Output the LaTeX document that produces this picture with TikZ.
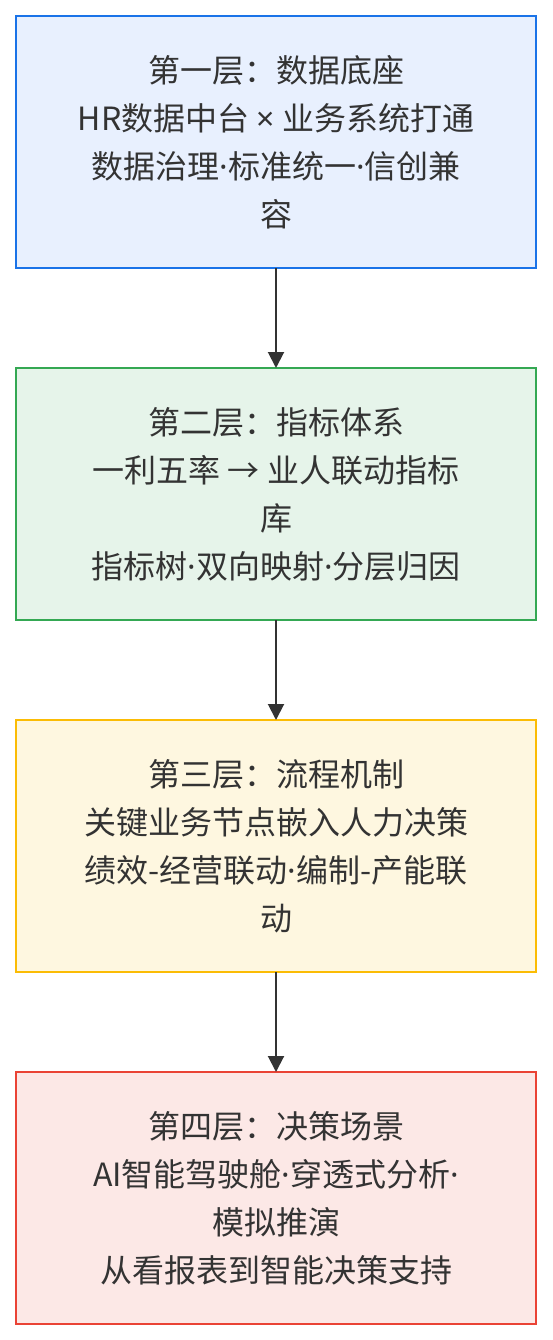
\documentclass[tikz,border=0pt]{standalone}
\usepackage{fontspec}
\setmainfont{Noto Sans CJK SC}
\newfontfamily\latf{Noto Sans}
\newcommand{\mydot}{{\latf ·}}
\newcommand{\mytimes}{{\latf ×}}
\usetikzlibrary{arrows.meta}
\definecolor{txt}{HTML}{333333}
\definecolor{bA}{HTML}{1A73E8}\definecolor{fA}{HTML}{E8F0FE}
\definecolor{bB}{HTML}{34A853}\definecolor{fB}{HTML}{E6F4EA}
\definecolor{bC}{HTML}{FBBC04}\definecolor{fC}{HTML}{FEF7E0}
\definecolor{bD}{HTML}{EA4335}\definecolor{fD}{HTML}{FCE8E6}
\tikzset{
  layer/.style={draw=#1, line width=1.8pt, minimum width=520pt, minimum height=252pt,
    inner sep=0pt, outer sep=0pt, align=center, text=txt,
    font=\fontsize{32pt}{48pt}\selectfont},
  conn/.style={draw=txt, line width=2pt, -{Triangle[width=16pt,length=16pt]}}
}
\begin{document}
\begin{tikzpicture}[x=1pt,y=1pt]
\useasboundingbox[fill=white] (0,0) rectangle (552,-1340);
\node[layer=bA, fill=fA] (l1) at (276,-142) {第一层：数据底座\\HR数据中台 \mytimes{} 业务系统打通\\数据治理\mydot{}标准统一\mydot{}信创兼\\容};
\node[layer=bB, fill=fB] (l2) at (276,-494) {第二层：指标体系\\一利五率 → 业人联动指标\\库\\指标树\mydot{}双向映射\mydot{}分层归因};
\node[layer=bC, fill=fC] (l3) at (276,-846) {第三层：流程机制\\关键业务节点嵌入人力决策\\绩效-经营联动\mydot{}编制-产能联\\动};
\node[layer=bD, fill=fD] (l4) at (276,-1198) {第四层：决策场景\\AI智能驾驶舱\mydot{}穿透式分析\mydot{}\\模拟推演\\从看报表到智能决策支持};
\draw[conn] (l1.south) -- (l2.north);
\draw[conn] (l2.south) -- (l3.north);
\draw[conn] (l3.south) -- (l4.north);
\end{tikzpicture}
\end{document}
